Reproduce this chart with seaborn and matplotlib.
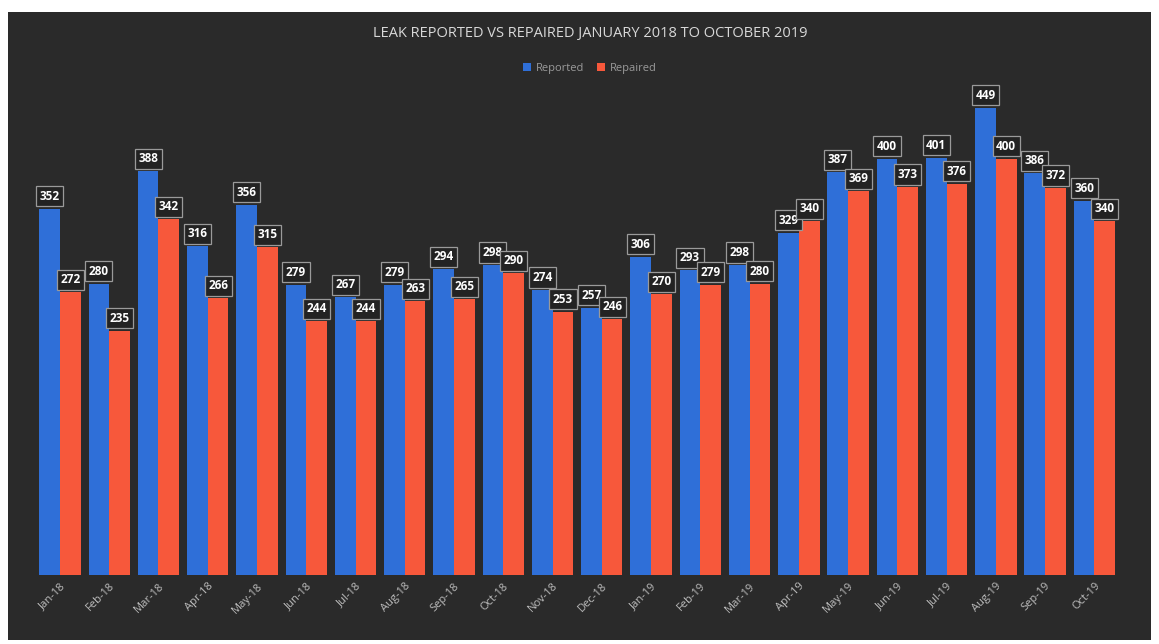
import matplotlib
matplotlib.use("Agg")
import matplotlib.pyplot as plt
import seaborn as sns
import pandas as pd
from matplotlib.patches import Rectangle

months = ["Jan-18", "Feb-18", "Mar-18", "Apr-18", "May-18", "Jun-18", "Jul-18", "Aug-18",
          "Sep-18", "Oct-18", "Nov-18", "Dec-18", "Jan-19", "Feb-19", "Mar-19", "Apr-19",
          "May-19", "Jun-19", "Jul-19", "Aug-19", "Sep-19", "Oct-19"]
reported = [352, 280, 388, 316, 356, 279, 267, 279, 294, 298, 274, 257,
            306, 293, 298, 329, 387, 400, 401, 449, 386, 360]
repaired = [272, 235, 342, 266, 315, 244, 244, 263, 265, 290, 253, 246,
            270, 279, 280, 340, 369, 373, 376, 400, 372, 340]
series = ["Reported", "Repaired"]
colors = ["#2f6fd8", "#f7583b"]

df = pd.DataFrame({
    "Month": months * 2,
    "Value": reported + repaired,
    "Series": [series[0]] * len(months) + [series[1]] * len(months),
})

sns.set_theme(style="dark")
plt.rcParams['font.family'] = ['Open Sans', 'DejaVu Sans']

bg = "#2a2a2a"
fig = plt.figure(figsize=(11.59, 6.44), dpi=100)
fig.patch.set_facecolor("white")
fig.patches.append(Rectangle((0.007, 0.006), 0.986, 0.975, transform=fig.transFigure,
                             facecolor=bg, edgecolor="none", zorder=-10))
ax = fig.add_axes([0.0305, 0.107, 0.935, 0.761])
ax.set_facecolor(bg)

sns.barplot(data=df, x="Month", y="Value", hue="Series", hue_order=series,
            palette=colors, width=0.84, ax=ax, saturation=1, legend=False,
            linewidth=0, edgecolor="none")

ax.set_ylim(0, 471)
ax.set_xlim(-0.5, len(months) - 0.5)
ax.set_xlabel("")
ax.set_ylabel("")
ax.set_yticks([])
for s in ax.spines.values():
    s.set_visible(False)
ax.grid(False)
ax.set_xticks(range(len(months)))
ax.set_xticklabels(months, rotation=45, ha="right", rotation_mode="anchor",
                   color="#bdbdbd", fontsize=8)
ax.tick_params(axis="x", length=0, pad=4)

for cont in ax.containers:
    for bar in cont:
        h = bar.get_height()
        ax.annotate(f"{int(round(h))}", (bar.get_x() + bar.get_width() / 2, h),
                    xytext=(0, 9), textcoords="offset points", ha="center", va="center",
                    color="white", fontsize=8.5, fontweight="bold",
                    bbox=dict(boxstyle="square,pad=0.3", facecolor="#232323",
                              edgecolor="#9a9a9a", linewidth=0.9))

fig.text(0.509, 0.948, "LEAK REPORTED VS REPAIRED JANUARY 2018 TO OCTOBER 2019",
         ha="center", va="center", color="#d8d8d8", fontsize=10.5)

handles = [Rectangle((0, 0), 1, 1, facecolor=c, edgecolor="none", linewidth=0) for c in colors]
fig.legend(handles, series, loc="center", bbox_to_anchor=(0.509, 0.894), ncol=2,
           frameon=False, fontsize=8, labelcolor="#9a9a9a", handlelength=0.7,
           handleheight=0.7, handletextpad=0.4, columnspacing=1.2)

fig.savefig("out.png", dpi=100, facecolor=fig.get_facecolor())
